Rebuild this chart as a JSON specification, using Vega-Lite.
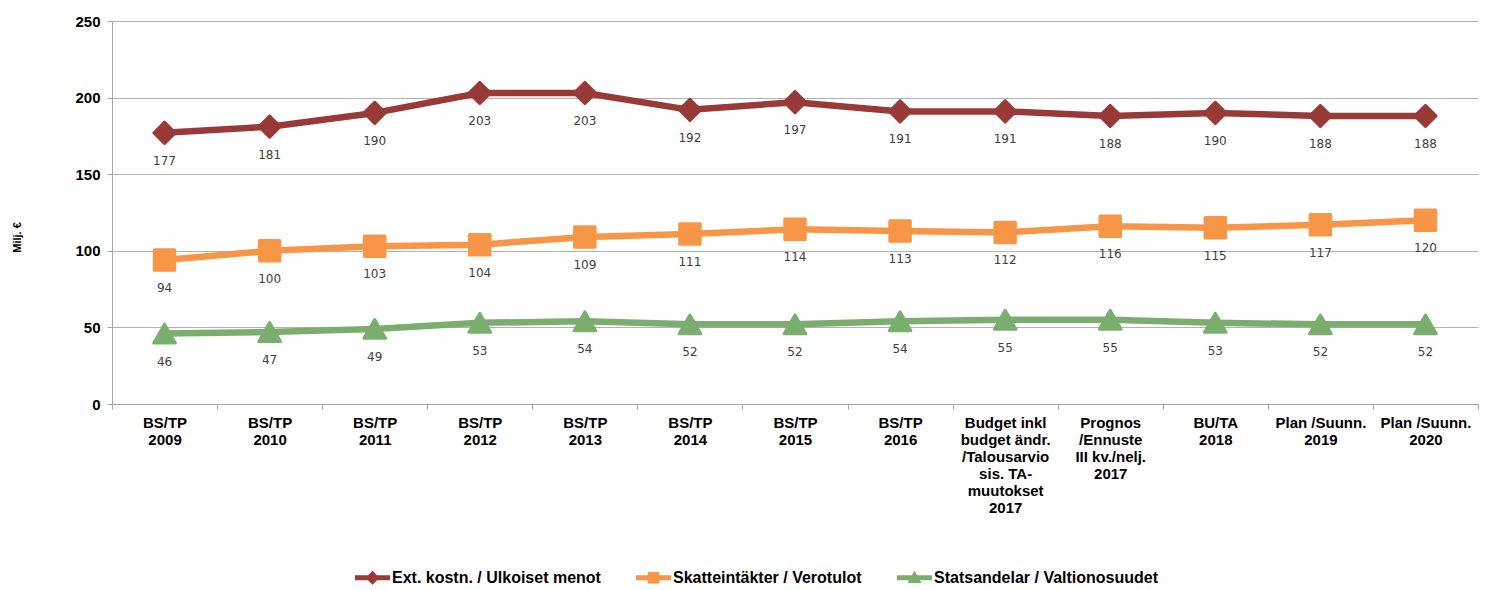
{
  "$schema": "https://vega.github.io/schema/vega-lite/v6.json",
  "autosize": {"type": "none"},
  "width": 1366,
  "height": 383,
  "padding": {"top": 21, "left": 112, "right": 11, "bottom": 186},
  "background": "white",
  "config": {
    "view": {"stroke": null},
    "axis": {"labelFont": "Liberation Sans", "titleFont": "Liberation Sans"}
  },
  "data": {
    "values": [
      {"cat": "BS/TP|2009", "s": "Ext. kostn. / Ulkoiset menot", "v": 177},
      {"cat": "BS/TP|2010", "s": "Ext. kostn. / Ulkoiset menot", "v": 181},
      {"cat": "BS/TP|2011", "s": "Ext. kostn. / Ulkoiset menot", "v": 190},
      {"cat": "BS/TP|2012", "s": "Ext. kostn. / Ulkoiset menot", "v": 203},
      {"cat": "BS/TP|2013", "s": "Ext. kostn. / Ulkoiset menot", "v": 203},
      {"cat": "BS/TP|2014", "s": "Ext. kostn. / Ulkoiset menot", "v": 192},
      {"cat": "BS/TP|2015", "s": "Ext. kostn. / Ulkoiset menot", "v": 197},
      {"cat": "BS/TP|2016", "s": "Ext. kostn. / Ulkoiset menot", "v": 191},
      {"cat": "Budget inkl|budget ändr.|/Talousarvio|sis. TA-|muutokset|2017", "s": "Ext. kostn. / Ulkoiset menot", "v": 191},
      {"cat": "Prognos|/Ennuste|III kv./nelj.|2017", "s": "Ext. kostn. / Ulkoiset menot", "v": 188},
      {"cat": "BU/TA|2018", "s": "Ext. kostn. / Ulkoiset menot", "v": 190},
      {"cat": "Plan /Suunn.|2019", "s": "Ext. kostn. / Ulkoiset menot", "v": 188},
      {"cat": "Plan /Suunn.|2020", "s": "Ext. kostn. / Ulkoiset menot", "v": 188},
      {"cat": "BS/TP|2009", "s": "Skatteintäkter / Verotulot", "v": 94},
      {"cat": "BS/TP|2010", "s": "Skatteintäkter / Verotulot", "v": 100},
      {"cat": "BS/TP|2011", "s": "Skatteintäkter / Verotulot", "v": 103},
      {"cat": "BS/TP|2012", "s": "Skatteintäkter / Verotulot", "v": 104},
      {"cat": "BS/TP|2013", "s": "Skatteintäkter / Verotulot", "v": 109},
      {"cat": "BS/TP|2014", "s": "Skatteintäkter / Verotulot", "v": 111},
      {"cat": "BS/TP|2015", "s": "Skatteintäkter / Verotulot", "v": 114},
      {"cat": "BS/TP|2016", "s": "Skatteintäkter / Verotulot", "v": 113},
      {"cat": "Budget inkl|budget ändr.|/Talousarvio|sis. TA-|muutokset|2017", "s": "Skatteintäkter / Verotulot", "v": 112},
      {"cat": "Prognos|/Ennuste|III kv./nelj.|2017", "s": "Skatteintäkter / Verotulot", "v": 116},
      {"cat": "BU/TA|2018", "s": "Skatteintäkter / Verotulot", "v": 115},
      {"cat": "Plan /Suunn.|2019", "s": "Skatteintäkter / Verotulot", "v": 117},
      {"cat": "Plan /Suunn.|2020", "s": "Skatteintäkter / Verotulot", "v": 120},
      {"cat": "BS/TP|2009", "s": "Statsandelar / Valtionosuudet", "v": 46},
      {"cat": "BS/TP|2010", "s": "Statsandelar / Valtionosuudet", "v": 47},
      {"cat": "BS/TP|2011", "s": "Statsandelar / Valtionosuudet", "v": 49},
      {"cat": "BS/TP|2012", "s": "Statsandelar / Valtionosuudet", "v": 53},
      {"cat": "BS/TP|2013", "s": "Statsandelar / Valtionosuudet", "v": 54},
      {"cat": "BS/TP|2014", "s": "Statsandelar / Valtionosuudet", "v": 52},
      {"cat": "BS/TP|2015", "s": "Statsandelar / Valtionosuudet", "v": 52},
      {"cat": "BS/TP|2016", "s": "Statsandelar / Valtionosuudet", "v": 54},
      {"cat": "Budget inkl|budget ändr.|/Talousarvio|sis. TA-|muutokset|2017", "s": "Statsandelar / Valtionosuudet", "v": 55},
      {"cat": "Prognos|/Ennuste|III kv./nelj.|2017", "s": "Statsandelar / Valtionosuudet", "v": 55},
      {"cat": "BU/TA|2018", "s": "Statsandelar / Valtionosuudet", "v": 53},
      {"cat": "Plan /Suunn.|2019", "s": "Statsandelar / Valtionosuudet", "v": 52},
      {"cat": "Plan /Suunn.|2020", "s": "Statsandelar / Valtionosuudet", "v": 52}
    ]
  },
  "encoding": {
    "x": {
      "field": "cat", "type": "nominal", "sort": null, "bandPosition": 0.5,
      "scale": {"type": "band", "paddingInner": 0, "paddingOuter": 0},
      "axis": {
        "title": null, "labelAngle": 0, "tickBand": "extent",
        "labelExpr": "isValid(datum.value) ? split(datum.value, '|') : ''", "labelLineHeight": 17,
        "labelFont": "Liberation Sans", "labelFontWeight": "bold", "labelFontSize": 15,
        "labelColor": "#000000", "labelPadding": 6, "labelLimit": 200,
        "tickSize": 5, "tickColor": "#A6A6A6", "domainColor": "#A6A6A6",
        "grid": false, "labelBaseline": "top"
      }
    },
    "y": {
      "field": "v", "type": "quantitative",
      "scale": {"domain": [0, 250], "nice": false, "zero": true},
      "axis": {
        "title": "Milj. €", "values": [0, 50, 100, 150, 200, 250],
        "labelFont": "Liberation Sans", "labelFontWeight": "bold", "labelFontSize": 15,
        "labelColor": "#000000", "labelPadding": 7, "tickSize": 5,
        "tickColor": "#A6A6A6", "domainColor": "#A6A6A6",
        "gridColor": "#B3B3B3", "gridWidth": 1,
        "titleFontSize": 11, "titleFontWeight": "bold", "titleColor": "#000000",
        "titleAngle": -90, "titleX": -95, "titleY": 216, "titleAlign": "center", "titleBaseline": "middle"
      }
    },
    "color": {
      "field": "s", "type": "nominal",
      "scale": {
        "domain": ["Ext. kostn. / Ulkoiset menot", "Skatteintäkter / Verotulot", "Statsandelar / Valtionosuudet"],
        "range": ["#983A37", "#F79646", "#7BAE6E"]
      },
      "legend": {
        "title": null, "orient": "none", "direction": "horizontal",
        "legendX": 243, "legendY": 539, "padding": 0,
        "labelFont": "Liberation Sans", "labelFontWeight": "bold", "labelFontSize": 16,
        "labelColor": "#000000", "labelOffset": 2, "columnPadding": 35, "labelLimit": 400,
        "symbolSize": 1225, "symbolStrokeWidth": 0, "symbolOpacity": 1,
        "encode": {
          "symbols": {
            "update": {
              "shape": {"signal": "datum.value == 'Ext. kostn. / Ulkoiset menot' ? 'M-1,-0.14H1V0.14H-1Z M-0.4,0L0,-0.4L0.4,0L0,0.4Z' : datum.value == 'Skatteintäkter / Verotulot' ? 'M-1,-0.14H1V0.14H-1Z M-0.33,-0.33H0.33V0.33H-0.33Z' : 'M-1,-0.14H1V0.14H-1Z M0,-0.42L0.4,0.3H-0.4Z'"},
              "fill": {"scale": "color", "field": "value"},
              "stroke": {"value": "transparent"},
              "opacity": {"value": 1}
            }
          }
        }
      }
    }
  },
  "layer": [
    {"mark": {"type": "line", "strokeWidth": 6.5, "strokeJoin": "round"}},
    {
      "transform": [{"filter": "datum.s == 'Ext. kostn. / Ulkoiset menot'"}],
      "mark": {"type": "point", "filled": true, "opacity": 1, "size": 480, "shape": "diamond", "stroke": "#983A37", "strokeWidth": 2.5, "strokeJoin": "round"}
    },
    {
      "transform": [{"filter": "datum.s == 'Skatteintäkter / Verotulot'"}],
      "mark": {"type": "point", "filled": true, "opacity": 1, "size": 420, "shape": "square", "stroke": "#F79646", "strokeWidth": 3, "strokeJoin": "round"}
    },
    {
      "transform": [{"filter": "datum.s == 'Statsandelar / Valtionosuudet'"}],
      "mark": {"type": "point", "filled": true, "opacity": 1, "size": 470, "shape": "triangle-up", "stroke": "#7BAE6E", "strokeWidth": 3, "strokeJoin": "round"}
    },
    {
      "mark": {"type": "text", "dy": 28, "font": "DejaVu Sans", "fontSize": 12, "color": "#404040"},
      "encoding": {"text": {"field": "v", "type": "quantitative"}, "color": {"value": "#404040"}}
    }
  ]
}
